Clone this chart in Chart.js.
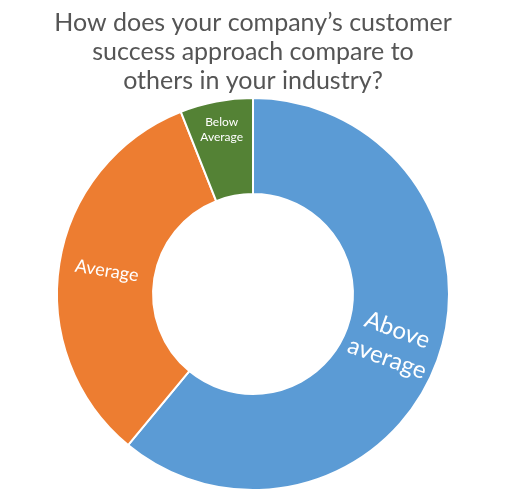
<!DOCTYPE html>
<html>
<head>
<meta charset="utf-8">
<script src="https://cdn.jsdelivr.net/npm/chart.js@4/dist/chart.umd.min.js"></script>
<style>
  html, body { margin: 0; padding: 0; background: #fff; }
  #wrap { width: 510px; height: 497px; }
</style>
</head>
<body>
<div id="wrap"><canvas id="surveyChart"></canvas></div>
<script>
// 데이터
const titleLines = ["How does your company\u2019s customer", "success approach compare to", "others in your industry?"];
const categories = ["Above average", "Average", "Below Average"];
const labelLines = [["Above", "average"], ["Average"], ["Below", "Average"]];
const shares = [61, 33, 6];
const sliceColors = ["#5b9bd5", "#ed7d31", "#548235"];

// 조각 위에 글자 그리기
const sliceLabels = {
  id: 'sliceLabels',
  afterDatasetsDraw(chart) {
    const ctx = chart.ctx;
    const meta = chart.getDatasetMeta(0);
    meta.data.forEach((arc, i) => {
      const p = arc.getProps(['startAngle', 'endAngle', 'innerRadius', 'outerRadius', 'x', 'y'], true);
      const mid = (p.startAngle + p.endAngle) / 2;
      const span = p.endAngle - p.startAngle;
      const small = span < 0.5;
      const r = p.innerRadius + (p.outerRadius - p.innerRadius) * (small ? 0.7 : 0.5);
      const cx = p.x + Math.cos(mid) * r;
      const cy = p.y + Math.sin(mid) * r;
      let size = 24;
      if (span < 2.5) size = 18;
      if (small) size = 12;
      const lh = size * 1.25;
      const lines = labelLines[i];
      ctx.save();
      ctx.translate(cx, cy);
      if (!small) {
        // 반지름 방향으로 회전 (글자가 뒤집히지 않게)
        let rot = mid;
        while (rot > Math.PI / 2) rot -= Math.PI;
        while (rot < -Math.PI / 2) rot += Math.PI;
        ctx.rotate(rot);
      }
      ctx.fillStyle = '#ffffff';
      ctx.font = size + 'px Lato, "Open Sans", sans-serif';
      ctx.textAlign = 'center';
      ctx.textBaseline = 'middle';
      lines.forEach((t, j) => {
        ctx.fillText(t, 0, (j - (lines.length - 1) / 2) * lh);
      });
      ctx.restore();
    });
  }
};

new Chart(document.getElementById('surveyChart'), {
  type: 'doughnut',
  data: {
    labels: categories,
    datasets: [{
      data: shares,
      backgroundColor: sliceColors,
      borderColor: '#ffffff',
      borderWidth: 2
    }]
  },
  options: {
    responsive: true,
    maintainAspectRatio: false,
    animation: false,
    cutout: '51%',
    layout: { padding: { left: 0, right: 4, top: 0, bottom: 6 } },
    plugins: {
      legend: { display: false },
      tooltip: { enabled: false },
      title: {
        display: true,
        text: titleLines,
        color: '#555555',
        font: { family: 'Lato, "Open Sans", sans-serif', size: 25, weight: 'normal', lineHeight: 1.16 },
        padding: { top: 8, bottom: 2 }
      }
    }
  },
  plugins: [sliceLabels]
});
</script>
</body>
</html>
